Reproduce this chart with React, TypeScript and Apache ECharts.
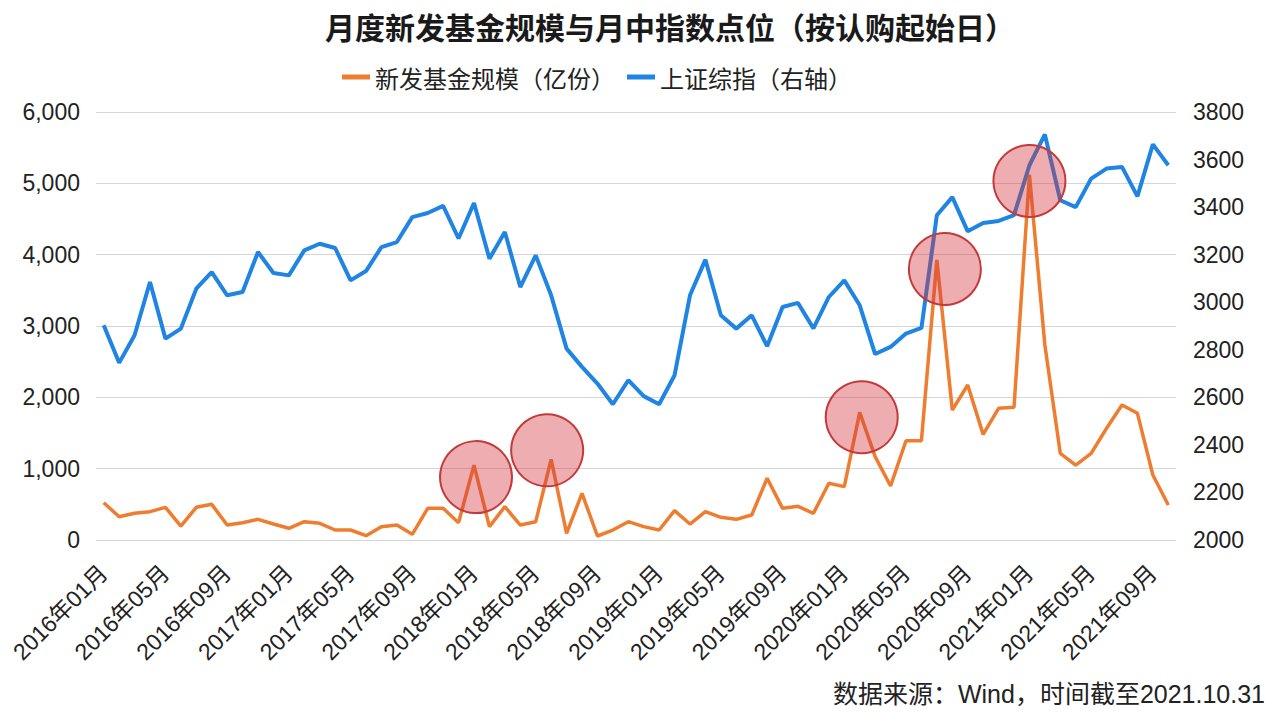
import React, { useEffect, useRef } from "react";
import * as echarts from "echarts";

const months: string[] = [];
for (let y = 2016; y <= 2021; y++) {
  for (let m = 1; m <= 12; m++) {
    if (y === 2021 && m > 10) break;
    months.push(`${y}年${m < 10 ? "0" + m : m}月`);
  }
}

const newFundSize = [
  523, 327, 374, 397, 458, 196, 458, 500, 210, 243, 290, 224,
  164, 257, 234, 140, 140, 61, 187, 210, 80, 444, 444, 243,
  1050, 187, 467, 210, 257, 1131, 93, 654, 56, 140, 257, 187,
  140, 411, 224, 397, 318, 290, 350, 865, 444, 472, 374, 795,
  748, 1790, 1168, 757, 1392, 1392, 3925, 1822, 2173, 1481, 1846, 1860,
  5117, 2734, 1215, 1051, 1215, 1566, 1893, 1776, 911, 491,
];

const shIndex = [
  2903, 2745, 2861, 3085, 2847, 2889, 3057, 3127, 3029, 3043, 3211, 3123,
  3113, 3218, 3246, 3228, 3092, 3131, 3232, 3253, 3358, 3375, 3405, 3268,
  3417, 3183, 3295, 3064, 3197, 3029, 2805, 2728, 2658, 2571, 2672, 2605,
  2571, 2693, 3029, 3179, 2945, 2889, 2945, 2815, 2980, 2997, 2890, 3022,
  3092, 2987, 2782, 2812, 2868, 2892, 3366, 3442, 3298, 3333, 3342, 3366,
  3576, 3706, 3429, 3400, 3520, 3562, 3569, 3445, 3664, 3576,
];

const highlightIdx = [24, 29, 49, 54, 60];
const highlightOffsets = [[2, 12], [-4, -9], [2, 5], [8, 9], [0, 6]];

const seriesNames = ["新发基金规模（亿份）", "上证综指（右轴）"];
const titleText = "月度新发基金规模与月中指数点位（按认购起始日）";
const sourceText = "数据来源：Wind，时间截至2021.10.31";

const FONT = "'Liberation Sans', 'Noto Sans CJK SC', sans-serif";
const ORANGE = "#EE7D2F";
const BLUE = "#1F84E2";

export default function App() {
  const ref = useRef<HTMLDivElement>(null);
  useEffect(() => {
    if (!ref.current) return;
    const chart = echarts.init(ref.current, null, { renderer: "svg" });
    chart.setOption({
      animation: false,
      backgroundColor: "#ffffff",
      textStyle: { fontFamily: FONT },
      title: {
        text: titleText,
        left: 320,
        top: 6,
        textStyle: {
          fontFamily: "'Noto Sans CJK SC', sans-serif",
          fontSize: 30,
          fontWeight: "bold",
          color: "#1a1a1a",
        },
      },
      legend: {
        top: 60,
        left: 337,
        itemWidth: 28,
        itemHeight: 5,
        itemGap: 12,
        icon: "rect",
        textStyle: {
          fontFamily: "'Noto Sans CJK SC', sans-serif",
          fontSize: 24,
          color: "#222",
        },
        data: seriesNames,
      },
      grid: { left: 96, right: 104, top: 112, bottom: 178, containLabel: false },
      xAxis: {
        type: "category",
        data: months,
        boundaryGap: true,
        axisLine: { show: false },
        axisTick: { show: false },
        axisLabel: {
          interval: 3,
          rotate: 45,
          fontSize: 23,
          color: "#222",
          margin: 29,
          fontFamily: FONT,
        },
      },
      yAxis: [
        {
          type: "value",
          min: 0,
          max: 6000,
          interval: 1000,
          axisLine: { show: false },
          axisTick: { show: false },
          splitLine: { lineStyle: { color: "#d6d6d6", width: 1 } },
          axisLabel: {
            fontSize: 23,
            color: "#222",
            margin: 16,
            fontFamily: FONT,
            formatter: (v: number) => v.toLocaleString("en-US"),
          },
        },
        {
          type: "value",
          min: 2000,
          max: 3800,
          interval: 200,
          axisLine: { show: false },
          axisTick: { show: false },
          splitLine: { show: false },
          axisLabel: {
            fontSize: 23,
            color: "#222",
            margin: 17,
            fontFamily: FONT,
            formatter: (v: number) => String(v),
          },
        },
      ],
      series: [
        {
          name: seriesNames[0],
          type: "line",
          yAxisIndex: 0,
          data: newFundSize,
          symbol: "none",
          itemStyle: { color: ORANGE },
          lineStyle: { color: ORANGE, width: 3.5 },
          z: 2,
          markPoint: {
            silent: true,
            z: 10,
            symbol: "circle",
            symbolSize: 72,
            label: { show: false },
            itemStyle: {
              color: "rgba(210,50,60,0.4)",
              borderColor: "#C43A3A",
              borderWidth: 2,
            },
            data: highlightIdx.map((i, k) => ({
              coord: [months[i], newFundSize[i]],
              symbolOffset: highlightOffsets[k],
            })),
          },
        },
        {
          name: seriesNames[1],
          type: "line",
          yAxisIndex: 1,
          data: shIndex,
          symbol: "none",
          itemStyle: { color: BLUE },
          lineStyle: { color: BLUE, width: 4 },
          z: 3,
        },
      ],
      graphic: [
        {
          type: "text",
          right: 15,
          top: 681,
          style: {
            text: sourceText,
            fontSize: 25,
            fill: "#222",
            fontFamily: FONT,
          },
        },
      ],
    });
    return () => chart.dispose();
  }, []);
  return (
    <div
      ref={ref}
      style={{ position: "fixed", left: 0, top: 0, width: 1280, height: 718 }}
    />
  );
}
